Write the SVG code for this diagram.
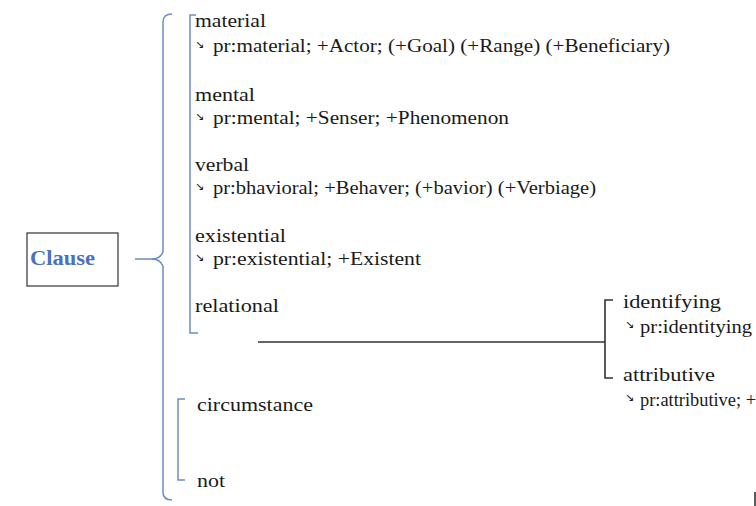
<svg xmlns="http://www.w3.org/2000/svg" width="756" height="506" viewBox="0 0 756 506">
<style>
.t{font-family:"Liberation Serif","Times New Roman",serif;font-size:19px;fill:#1a1a1a}
.s{font-family:"Liberation Serif","Times New Roman",serif;font-size:18px;fill:#1a1a1a}
.a{font-family:"DejaVu Sans",sans-serif;font-size:11px;fill:#1a1a1a}
.b{fill:none;stroke:#6d8cc4;stroke-width:1.5}
.k{fill:none;stroke:#333;stroke-width:1.6}
</style>
<rect width="756" height="506" fill="#fff"/>
<g id="clause">
<rect x="27" y="233" width="91" height="53" fill="#fff" stroke="#333" stroke-width="1.2"/>
<text x="30" y="265" textLength="65" lengthAdjust="spacingAndGlyphs" style="font-family:'Liberation Serif',serif;font-size:20px;font-weight:bold;fill:#4a70c0">Clause</text>
</g>
<g id="connectors">
<path class="b" d="M135,259 H152 Q160,259 163,252 V22 Q163,14 172,14"/>
<path class="b" d="M152,259 Q160,259 163,266 V492 Q163,500 172,500"/>
<path class="b" d="M196,15 H190 V333 H198"/>
<path class="b" d="M185,399 H178 V480 H185" stroke="#6a7fa6"/>
<path class="k" d="M258,342 H605"/>
<path class="k" d="M613,300 H605 V378 H613"/>
<path class="k" d="M755,492 V506"/>
</g>
<g id="material">
<text class="t" x="195" y="27" textLength="71" lengthAdjust="spacingAndGlyphs">material</text>
<text class="a" x="195" y="48">↘</text>
<text class="t" x="213" y="52" textLength="457" lengthAdjust="spacingAndGlyphs">pr:material; +Actor; (+Goal) (+Range) (+Beneficiary)</text>
</g>
<g id="mental">
<text class="t" x="195" y="101" textLength="60" lengthAdjust="spacingAndGlyphs">mental</text>
<text class="a" x="195" y="120">↘</text>
<text class="t" x="213" y="124" textLength="296" lengthAdjust="spacingAndGlyphs">pr:mental; +Senser; +Phenomenon</text>
</g>
<g id="verbal">
<text class="t" x="195" y="171" textLength="54" lengthAdjust="spacingAndGlyphs">verbal</text>
<text class="a" x="195" y="190">↘</text>
<text class="t" x="213" y="194" textLength="383" lengthAdjust="spacingAndGlyphs">pr:bhavioral; +Behaver; (+bavior) (+Verbiage)</text>
</g>
<g id="existential">
<text class="t" x="195" y="242" textLength="91" lengthAdjust="spacingAndGlyphs">existential</text>
<text class="a" x="195" y="261">↘</text>
<text class="t" x="213" y="265" textLength="208" lengthAdjust="spacingAndGlyphs">pr:existential; +Existent</text>
</g>
<g id="relational">
<text class="t" x="195" y="312" textLength="84" lengthAdjust="spacingAndGlyphs">relational</text>
</g>
<g id="identifying">
<text class="t" x="623" y="308" textLength="98" lengthAdjust="spacingAndGlyphs">identifying</text>
<text class="a" x="625" y="328">↘</text>
<text class="s" x="640" y="333" textLength="112" lengthAdjust="spacingAndGlyphs">pr:identitying</text>
</g>
<g id="attributive">
<text class="t" x="623" y="381" textLength="92" lengthAdjust="spacingAndGlyphs">attributive</text>
<text class="a" x="625" y="401">↘</text>
<text class="s" x="640" y="406" textLength="116" lengthAdjust="spacingAndGlyphs">pr:attributive; +</text>
</g>
<g id="circumstance">
<text class="t" x="197" y="411" textLength="116" lengthAdjust="spacingAndGlyphs">circumstance</text>
</g>
<g id="not">
<text class="t" x="197" y="487" textLength="28" lengthAdjust="spacingAndGlyphs">not</text>
</g>
</svg>
